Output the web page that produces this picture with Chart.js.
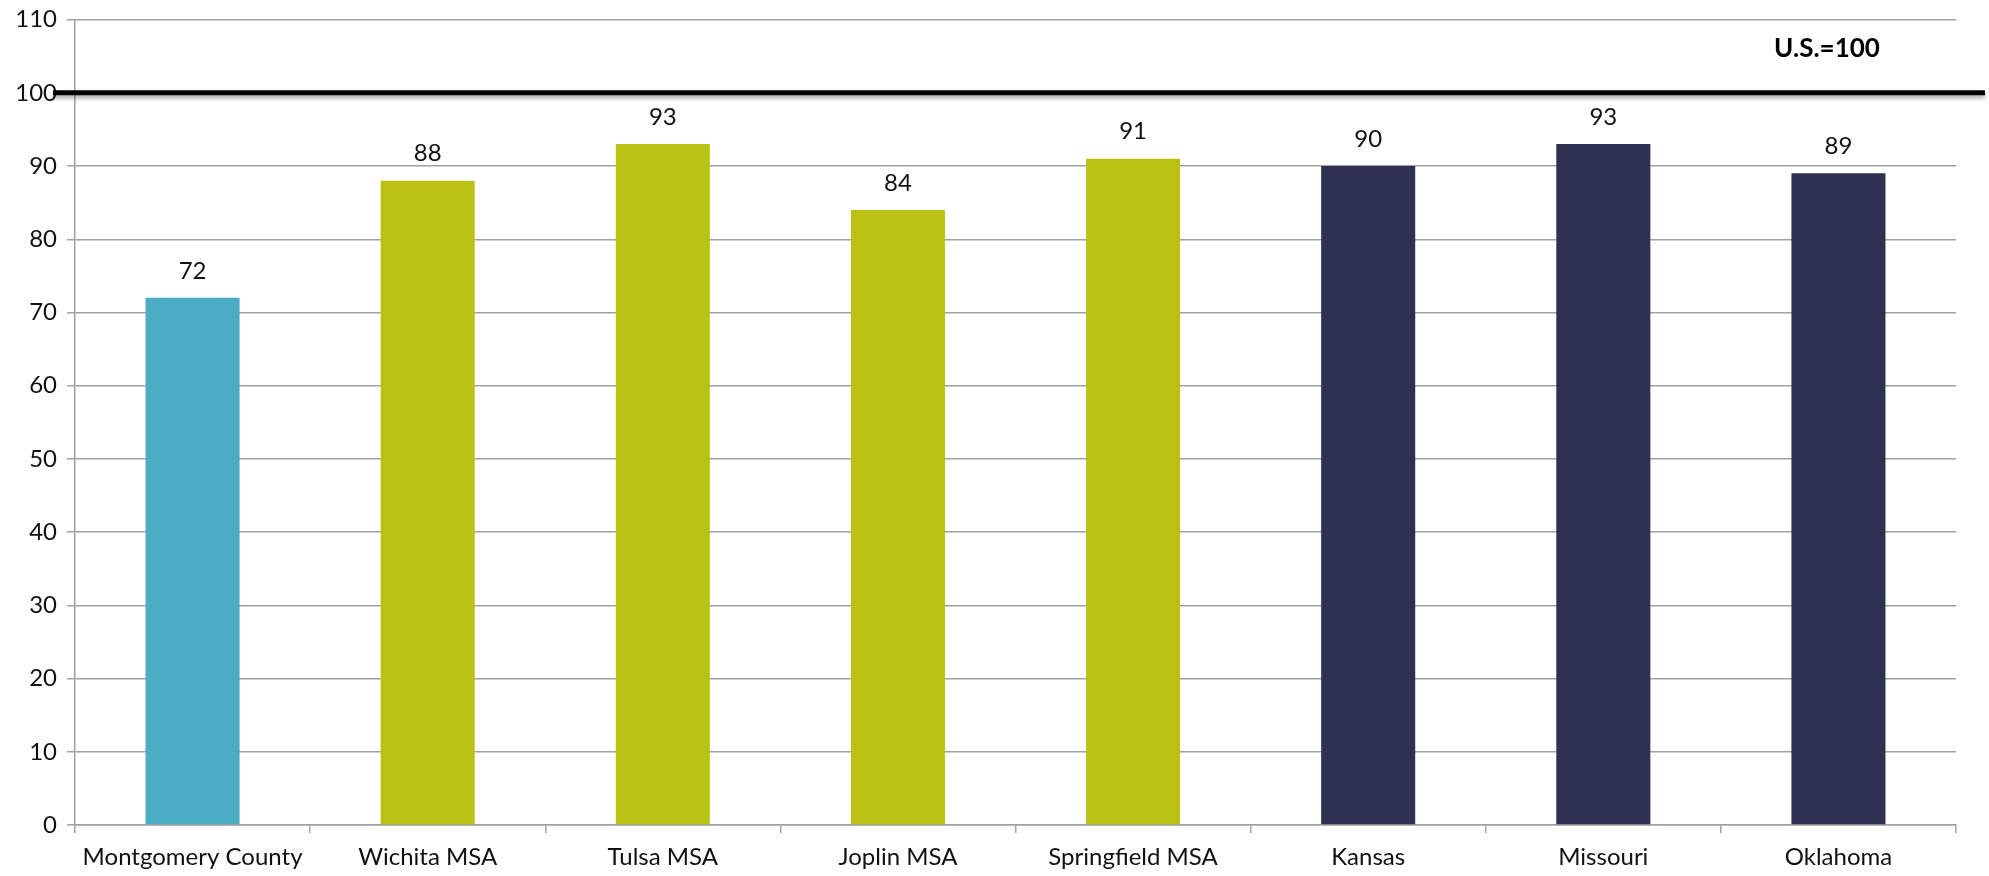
<!DOCTYPE html>
<html>
<head>
<meta charset="utf-8">
<script src="https://cdn.jsdelivr.net/npm/chart.js@4/dist/chart.umd.min.js"></script>
<style>
    html, body { margin: 0; padding: 0; background: #fff; }
    #wrap { width: 1989px; height: 876px; }
</style>
</head>
<body>
<div id="wrap"><canvas id="cost_index"></canvas></div>
<script>
const areas = ['Montgomery County', 'Wichita MSA', 'Tulsa MSA', 'Joplin MSA', 'Springfield MSA', 'Kansas', 'Missouri', 'Oklahoma'];
const index_values = [72, 88, 93, 84, 91, 90, 93, 89];
const area_colors = ['#4BACC6', '#BBC015', '#BBC015', '#BBC015', '#BBC015', '#2E3250', '#2E3250', '#2E3250'];
const us_baseline = 100;
const baseline_label = 'U.S.=100';

const FONT = 'Lato, "Liberation Sans", sans-serif';

// value above each bar, plus the heavy U.S. reference line
const overlay = {
    id: 'overlay',
    afterDatasetsDraw(chart) {
        const ctx = chart.ctx;
        const y = chart.scales.y;
        const area = chart.chartArea;

        ctx.save();
        ctx.font = '24px ' + FONT;
        ctx.fillStyle = '#111';
        ctx.textAlign = 'center';
        ctx.textBaseline = 'middle';
        chart.getDatasetMeta(0).data.forEach((bar, i) => {
            ctx.fillText(String(index_values[i]), bar.x, bar.y - 27);
        });

        const yy = y.getPixelForValue(us_baseline);
        ctx.shadowColor = 'rgba(0,0,0,0.35)';
        ctx.shadowBlur = 4;
        ctx.shadowOffsetY = 3;
        ctx.strokeStyle = '#000';
        ctx.lineWidth = 5;
        ctx.beginPath();
        ctx.moveTo(area.left - 22, yy);
        ctx.lineTo(chart.width - 4, yy);
        ctx.stroke();
        ctx.shadowColor = 'transparent';

        ctx.font = 'bold 26px ' + FONT;
        ctx.fillStyle = '#000';
        ctx.fillText(baseline_label, 1827, y.getPixelForValue(106.0));
        ctx.restore();
    }
};

new Chart(document.getElementById('cost_index'), {
    type: 'bar',
    data: {
        labels: areas,
        datasets: [{
            data: index_values,
            backgroundColor: area_colors,
            categoryPercentage: 1.0,
            barPercentage: 0.4
        }]
    },
    options: {
        responsive: true,
        maintainAspectRatio: false,
        animation: false,
        layout: { padding: { top: 13, right: 33, left: 0, bottom: 0 } },
        plugins: {
            legend: { display: false },
            tooltip: { enabled: false }
        },
        scales: {
            x: {
                afterFit(scale) { scale.height = 51; },
                grid: {
                    drawOnChartArea: false,
                    drawTicks: true,
                    tickLength: 8,
                    color: '#a0a0a0',
                    lineWidth: 1.5
                },
                border: { color: '#a0a0a0', width: 1.5 },
                ticks: {
                    color: '#111',
                    font: { family: FONT, size: 24 },
                    padding: 10
                }
            },
            y: {
                min: 0,
                max: 110,
                afterFit(scale) { scale.width = 75; },
                grid: {
                    color: '#a0a0a0',
                    lineWidth: 1.5,
                    tickLength: 8
                },
                border: { color: '#a0a0a0', width: 1.5 },
                ticks: {
                    stepSize: 10,
                    color: '#111',
                    font: { family: FONT, size: 24, lineHeight: 0.8 },
                    padding: 10
                }
            }
        }
    },
    plugins: [overlay]
});
</script>
</body>
</html>
